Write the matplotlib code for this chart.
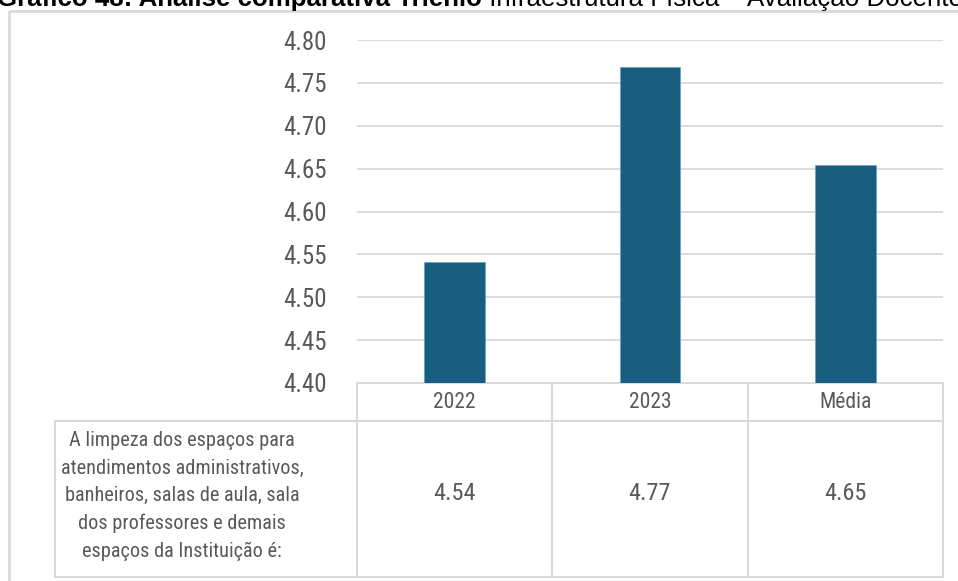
import matplotlib
matplotlib.use("Agg")
import matplotlib.pyplot as plt
from matplotlib.patches import Rectangle

# Chart data
categories = ['2022', '2023', 'Média']
values = [4.541, 4.769, 4.654]
value_labels = ['4.54', '4.77', '4.65']
row_label = ('A limpeza dos espaços para\natendimentos administrativos,\n'
             'banheiros, salas de aula, sala\ndos professores e demais\n'
             'espaços da Instituição é:')
y_ticks = [4.40, 4.45, 4.50, 4.55, 4.60, 4.65, 4.70, 4.75, 4.80]

title_bold = 'Gráfico 48: Análise comparativa Triênio'
title_rest = ' Infraestrutura Física – Avaliação Docente'

W, H = 958, 581
BAR = '#175e80'
GRID = '#d9d9d9'
TXT = '#595959'
NARROW = dict(family=['Liberation Sans Narrow', 'Roboto Condensed', 'DejaVu Sans'],
              stretch='condensed')

fig = plt.figure(figsize=(W / 100, H / 100), dpi=100)

# overlay axes in pixel coordinates for the frame and the table
bg = fig.add_axes([0, 0, 1, 1])
bg.set_xlim(0, W)
bg.set_ylim(H, 0)
bg.axis('off')

# outer frame (runs off the right and bottom edges)
bg.add_patch(Rectangle((9, 11), W, H, fill=False, edgecolor=GRID, lw=2))

# bar chart
left, right, top, bottom = 357, 943, 40, 383
ax = fig.add_axes([left / W, 1 - bottom / H, (right - left) / W, (bottom - top) / H])
ax.bar(range(len(categories)), values, width=0.31, color=BAR,
       edgecolor='#6fa3bf', linewidth=0.6, zorder=3)
ax.set_xlim(-0.5, len(categories) - 0.5)
ax.set_ylim(4.40, 4.80)
ax.set_yticks(y_ticks)
ax.set_yticklabels([f'{t:.2f}' for t in y_ticks], fontsize=18, color=TXT, **NARROW)
ax.tick_params(axis='y', length=0, pad=22)
ax.set_xticks([])
ax.grid(axis='y', color=GRID, lw=1.3, zorder=0)
for s in ax.spines.values():
    s.set_visible(False)

# data table under the chart
col_w = (right - left) / len(categories)
edges = [left + i * col_w for i in range(len(categories) + 1)]
hdr_bot, row_bot, lab_left = 421, 577, 55
lk = dict(color=GRID, lw=1.5)
bg.plot([left, right], [bottom, bottom], **lk)
bg.plot([lab_left, right], [hdr_bot, hdr_bot], **lk)
bg.plot([lab_left, right], [row_bot, row_bot], **lk)
bg.plot([lab_left, lab_left], [hdr_bot, row_bot], **lk)
for x in edges:
    bg.plot([x, x], [bottom, row_bot], **lk)
for i, (c, v) in enumerate(zip(categories, value_labels)):
    cx = (edges[i] + edges[i + 1]) / 2
    bg.text(cx, (bottom + hdr_bot) / 2, c, ha='center', va='center',
            fontsize=15.5, color=TXT, **NARROW)
    bg.text(cx, (hdr_bot + row_bot) / 2 - 6, v, ha='center', va='center',
            fontsize=17.5, color=TXT, **NARROW)
bg.text(182, (hdr_bot + row_bot) / 2 - 3, row_label, ha='center', va='center',
        multialignment='center', fontsize=14.6, color=TXT,
        linespacing=1.55, **NARROW)

# title, clipped at the top of the image
tfam = ['Liberation Sans', 'DejaVu Sans']
t1 = bg.text(-3, 6, title_bold, ha='left', va='baseline', fontsize=18.6,
             fontweight='bold', family=tfam, color='black')
fig.canvas.draw()
bb = t1.get_window_extent()
bg.text(bb.x1, 6, title_rest, ha='left', va='baseline', fontsize=18.6,
        family=tfam, color='black')

fig.savefig('out.png', dpi=100)
